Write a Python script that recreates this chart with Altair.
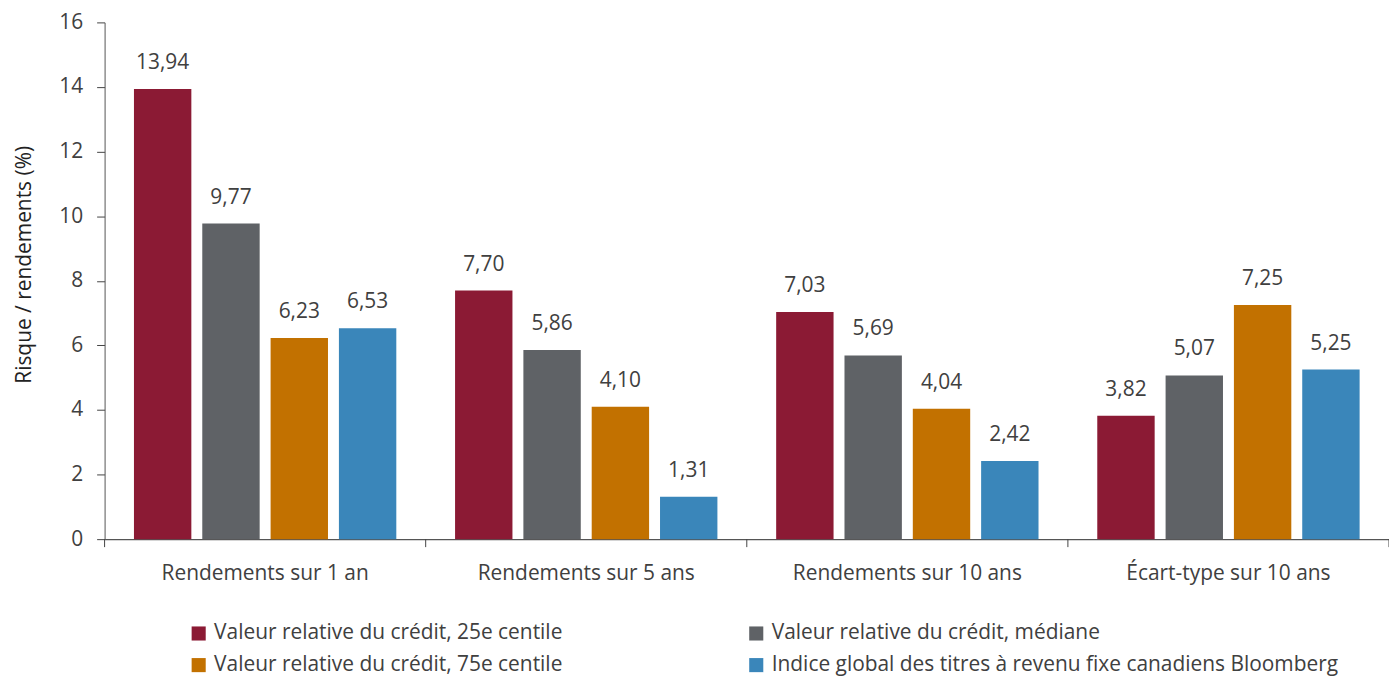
import altair as alt
import pandas as pd

categories = ["Rendements sur 1 an", "Rendements sur 5 ans", "Rendements sur 10 ans", "Écart-type sur 10 ans"]
series = [
    "Valeur relative du crédit, 25e centile",
    "Valeur relative du crédit, médiane",
    "Valeur relative du crédit, 75e centile",
    "Indice global des titres à revenu fixe canadiens Bloomberg",
]
colors = ["#8B1A34", "#5F6266", "#C27100", "#3A86BA"]
values = {
    series[0]: [13.94, 7.70, 7.03, 3.82],
    series[1]: [9.77, 5.86, 5.69, 5.07],
    series[2]: [6.23, 4.10, 4.04, 7.25],
    series[3]: [6.53, 1.31, 2.42, 5.25],
}
# legend is filled column by column: 25e, 75e | médiane, Indice
legend_order = [0, 2, 1, 3]

rows = []
for s in series:
    for c, v in zip(categories, values[s]):
        rows.append({"cat": c, "serie": s, "value": v})
df = pd.DataFrame(rows)

FONT = "Open Sans"
TXT = "#404040"
FS = 21
W, H = 1290, 519

x = alt.X("cat:N", sort=categories, title=None,
          scale=alt.Scale(paddingInner=0, paddingOuter=0),
          axis=alt.Axis(labelAngle=0, labelFontSize=FS, labelColor=TXT, labelFont=FONT,
                        labelPadding=24, labelLimit=500, ticks=False,
                        domainColor="#555", domainWidth=1.2))
xo = alt.XOffset("serie:N", sort=series,
                 scale=alt.Scale(paddingInner=0.16, paddingOuter=0.43))

base = alt.Chart(df)

bars = base.mark_bar().encode(
    x=x, xOffset=xo,
    y=alt.Y("value:Q", title="Risque / rendements (%)",
            scale=alt.Scale(domain=[0, 16]),
            axis=alt.Axis(values=list(range(0, 17, 2)), grid=False, tickSize=8,
                          tickColor="#444", domainColor="#555", labelFontSize=FS,
                          labelColor=TXT, labelFont=FONT, labelPadding=14,
                          titleFontSize=FS, titleColor="#222", titleFont=FONT,
                          titleFontWeight="normal", titlePadding=24, titleY=243)),
    color=alt.Color("serie:N",
                    scale=alt.Scale(domain=[series[i] for i in legend_order],
                                    range=[colors[i] for i in legend_order]),
                    legend=alt.Legend(title=None, orient="none", legendX=84, legendY=603,
                                      columns=2, columnPadding=183, rowPadding=10,
                                      symbolType="square", symbolSize=200,
                                      symbolStrokeWidth=0, labelFontSize=FS,
                                      labelColor=TXT, labelFont=FONT, labelLimit=700,
                                      labelOffset=5, padding=0)),
)

labels = base.transform_calculate(
    lab="replace(format(datum.value, '.2f'), '.', ',')"
).mark_text(fontSize=FS, font=FONT, color=TXT, baseline="bottom", dy=-16).encode(
    x=x, xOffset=xo, y="value:Q", text="lab:N"
)

ticks = base.transform_aggregate(n="count()", groupby=["cat"]).mark_rule(
    color="#444", strokeWidth=1).encode(
    x=alt.X("cat:N", sort=categories, bandPosition=0),
    y=alt.value(H), y2=alt.value(H + 8)
)
last_tick = alt.Chart(pd.DataFrame({"a": [0]})).mark_rule(color="#444", strokeWidth=1).encode(
    x=alt.value(W), y=alt.value(H), y2=alt.value(H + 8)
)

chart = alt.layer(bars, labels, ticks, last_tick).properties(
    width=W, height=H,
    autosize=alt.AutoSizeParams(type="none"),
    padding={"left": 97, "top": 13, "right": 0, "bottom": 140},
).configure_view(stroke=None)

chart.save("out.html", embed_options={"renderer": "svg", "actions": False})
